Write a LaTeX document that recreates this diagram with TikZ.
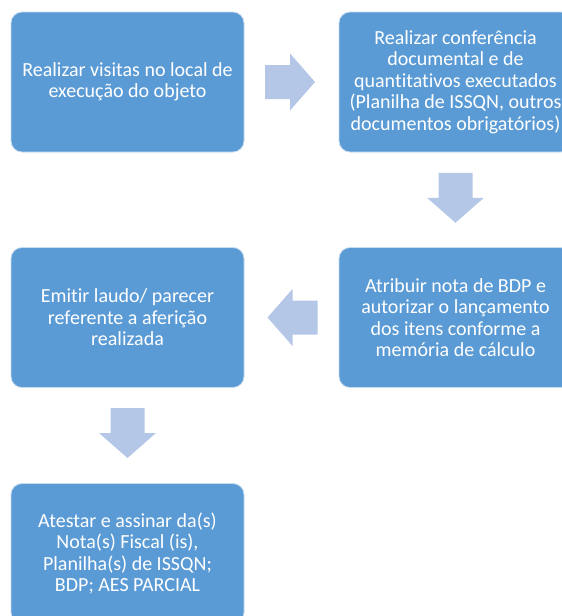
\documentclass[tikz,border=0pt]{standalone}
\usepackage{fontspec}
\setmainfont[Ligatures={NoCommon}]{Carlito}
\usetikzlibrary{calc}
\definecolor{boxblue}{HTML}{5B9BD5}
\definecolor{arrowblue}{HTML}{B4C7E7}
\begin{document}
\begin{tikzpicture}[x=1pt,y=-1pt,
  stepbox/.style={rectangle, rounded corners=11pt, fill=boxblue, draw=white!65!boxblue,
    line width=0.8pt, minimum width=233pt, minimum height=140pt, text=white,
    align=center, font=\fontsize{20}{21.4}\selectfont, inner sep=0pt},
  barrow/.pic={\fill[arrowblue] (-25,-17) -- (0,-17) -- (0,-28.5) -- (25,0) -- (0,28.5) -- (0,17) -- (-25,17) -- cycle;}]
\clip (0,0) rectangle (562,616);
\node[stepbox] (b1) at (127.5,82) {Realizar visitas no local de\\execução do objeto};
\node[stepbox] (b2) at (455.5,82) {Realizar conferência\\documental e de\\quantitativos executados\\(Planilha de ISSQN, outros\\documentos obrigatórios)};
\node[stepbox] (b3) at (455.5,317.5) {Atribuir nota de BDP e\\autorizar o lançamento\\dos itens conforme a\\memória de cálculo};
\node[stepbox] (b4) at (127.5,317.5) {Emitir laudo/ parecer\\referente a aferição\\realizada};
\node[stepbox] (b5) at (127.5,553.5) {Atestar e assinar da(s)\\Nota(s) Fiscal (is),\\Planilha(s) de ISSQN;\\BDP; AES PARCIAL};
\coordinate (m12) at ($(b1.east)!0.5!(b2.west)+(-1.5,0)$);
\coordinate (m23) at ($(b2.south)!0.5!(b3.north)+(0,-2)$);
\coordinate (m34) at ($(b4.east)!0.5!(b3.west)+(1,0)$);
\coordinate (m45) at ($(b4.south)!0.5!(b5.north)+(0,-2.5)$);
\pic at (m12) {barrow};
\pic[rotate=-90] at (m23) {barrow};
\pic[rotate=180] at (m34) {barrow};
\pic[rotate=-90] at (m45) {barrow};
\end{tikzpicture}
\end{document}
